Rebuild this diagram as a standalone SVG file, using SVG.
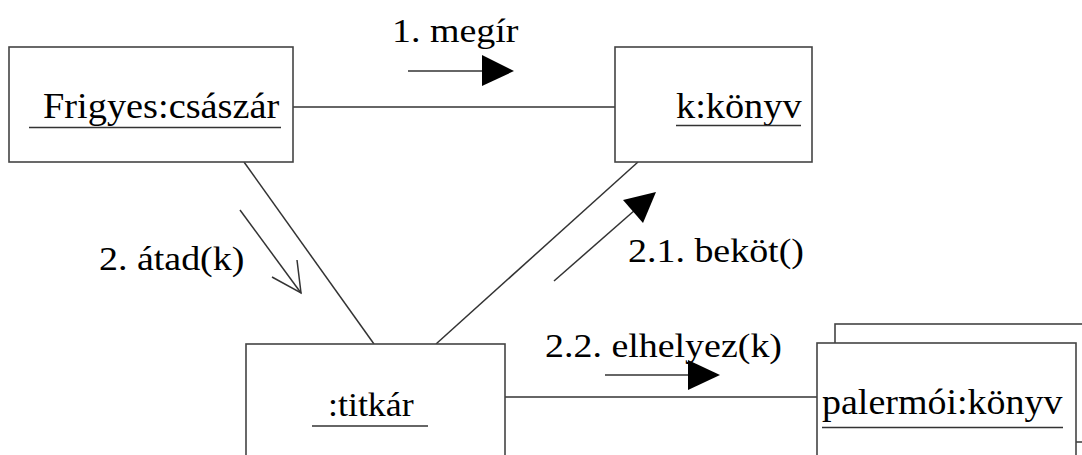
<svg xmlns="http://www.w3.org/2000/svg" width="1082" height="455" viewBox="0 0 1082 455">
<defs>
<style>
.box{fill:#fff;stroke:#444;stroke-width:1.6}
.ln{stroke:#333;stroke-width:1.5;fill:none}
.ul{stroke:#333;stroke-width:1.6}
.t{font-family:"Liberation Serif","Times New Roman",serif;fill:#000}
.head{fill:#000;stroke:none}
</style>
</defs>
<rect width="1082" height="455" fill="#fff"/>
<g id="connectors">
<line class="ln" x1="293" y1="107" x2="615" y2="107"/>
<line class="ln" x1="244" y1="162" x2="374" y2="344"/>
<line class="ln" x1="436" y1="344" x2="638" y2="162"/>
<line class="ln" x1="505" y1="397" x2="817" y2="397"/>
</g>
<g id="msg1">
<text class="t" transform="translate(392,42) scale(1.15,1)" font-size="33">1. megír</text>
<line class="ln" x1="408" y1="71" x2="485" y2="71"/>
<polygon class="head" points="482,55 514,71 482,86"/>
</g>
<g id="msg2">
<text class="t" transform="translate(99,270) scale(1.1,1)" font-size="34.5">2. átad(k)</text>
<line class="ln" x1="240" y1="210" x2="301" y2="293"/>
<polyline class="ln" points="272,277 301,293 297,260"/>
</g>
<g id="msg21">
<text class="t" transform="translate(628,262) scale(1.1,1)" font-size="34.5">2.1. beköt()</text>
<line class="ln" x1="554" y1="281" x2="635" y2="210"/>
<polygon class="head" points="656,192 643,223 623,200"/>
</g>
<g id="msg22">
<text class="t" transform="translate(545,357) scale(1.15,1)" font-size="33">2.2. elhelyez(k)</text>
<line class="ln" x1="605" y1="375" x2="690" y2="375"/>
<polygon class="head" points="688,360 720,375 688,390"/>
</g>
<g id="frigyes">
<rect class="box" x="9" y="47" width="284" height="115"/>
<text class="t" transform="translate(43,118) scale(1.08,1)" font-size="35.5">Frigyes:császár</text>
<line class="ul" x1="29" y1="127.5" x2="281" y2="127.5"/>
</g>
<g id="konyv">
<rect class="box" x="615" y="47" width="197" height="115"/>
<text class="t" transform="translate(676,118) scale(1.05,1)" font-size="36.5">k:könyv</text>
<line class="ul" x1="676" y1="125.5" x2="801" y2="125.5"/>
</g>
<g id="titkar">
<rect class="box" x="246" y="344" width="259" height="130"/>
<text class="t" transform="translate(328,416) scale(1.04,1)" font-size="34.5">:titkár</text>
<line class="ul" x1="312" y1="426" x2="428" y2="426"/>
</g>
<g id="palermoi">
<rect class="box" x="835" y="324" width="259" height="118"/>
<rect class="box" x="817" y="343" width="259" height="118"/>
<text class="t" transform="translate(822,414) scale(1.07,1)" font-size="35.5">palermói:könyv</text>
<line class="ul" x1="822" y1="427.5" x2="1063" y2="427.5"/>
</g>
</svg>
